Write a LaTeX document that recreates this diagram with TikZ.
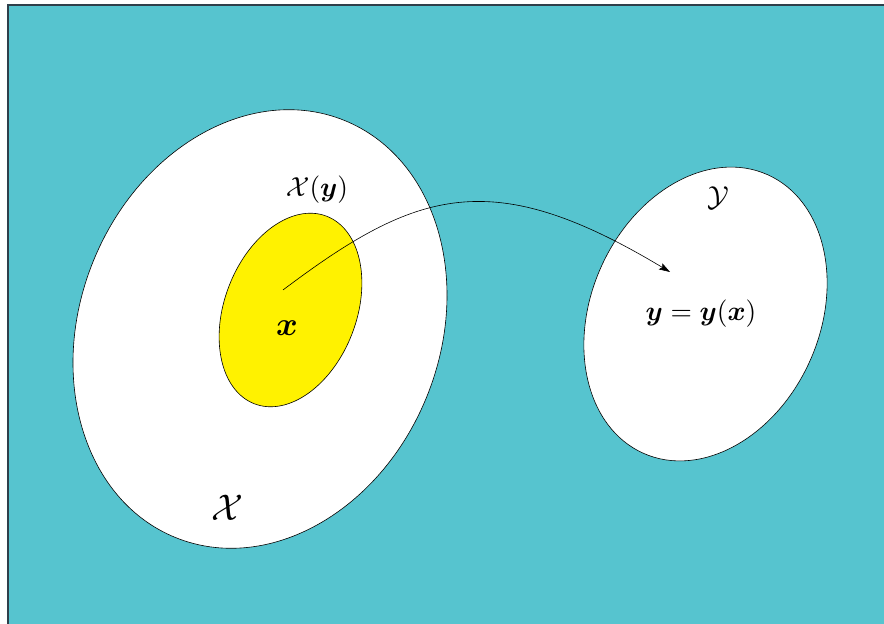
\documentclass[tikz,border=0pt]{standalone}
\usepackage{amsmath,bm}
\usetikzlibrary{shapes.geometric,arrows.meta}
\definecolor{bgcyan}{HTML}{56C4CF}
\definecolor{setyellow}{HTML}{FFF200}
\definecolor{framec}{HTML}{2E3F4A}
\tikzset{
  setshape/.style={ellipse, draw=black, line width=0.6pt, inner sep=0pt},
  lbl/.style={inner sep=0pt, scale=2.75},
}
\begin{document}
\begin{tikzpicture}[x=1pt,y=1pt]
\useasboundingbox (0,0) rectangle (884,624);
\clip (0,0) rectangle (884,624);
\fill[white] (0,0) rectangle (884,624);
\draw[fill=bgcyan, draw=framec, line width=1.5pt] (8,-5) rectangle (892,619);
\node[setshape, fill=white, minimum width=360pt, minimum height=450pt, rotate=-22] (bigX) at (260,295) {};
\node[setshape, fill=setyellow, minimum width=132pt, minimum height=201pt, rotate=-21] (Xy) at (290.5,314) {};
\node[setshape, fill=white, minimum width=229pt, minimum height=305pt, rotate=-24] (bigY) at (705.5,310) {};
\node[lbl] (lXy) at (317,434) {$\mathcal{X}(\bm{y})$};
\node[lbl, scale=1.2] (lx) at (287,296) {$\bm{x}$};
\node[lbl, scale=1.35] (lX) at (227,116) {$\mathcal{X}$};
\node[lbl, scale=1.05] (lY) at (718,426) {$\mathcal{Y}$};
\node[lbl] (lyx) at (701,310) {$\bm{y}=\bm{y}(\bm{x})$};
\coordinate (s) at (283,334);
\coordinate (e) at (670,352);
\draw[line width=0.6pt, -{Stealth[length=11pt,width=7pt,inset=2pt]}] (s) .. controls (417,435) and (492,459) .. (e);
\end{tikzpicture}
\end{document}
